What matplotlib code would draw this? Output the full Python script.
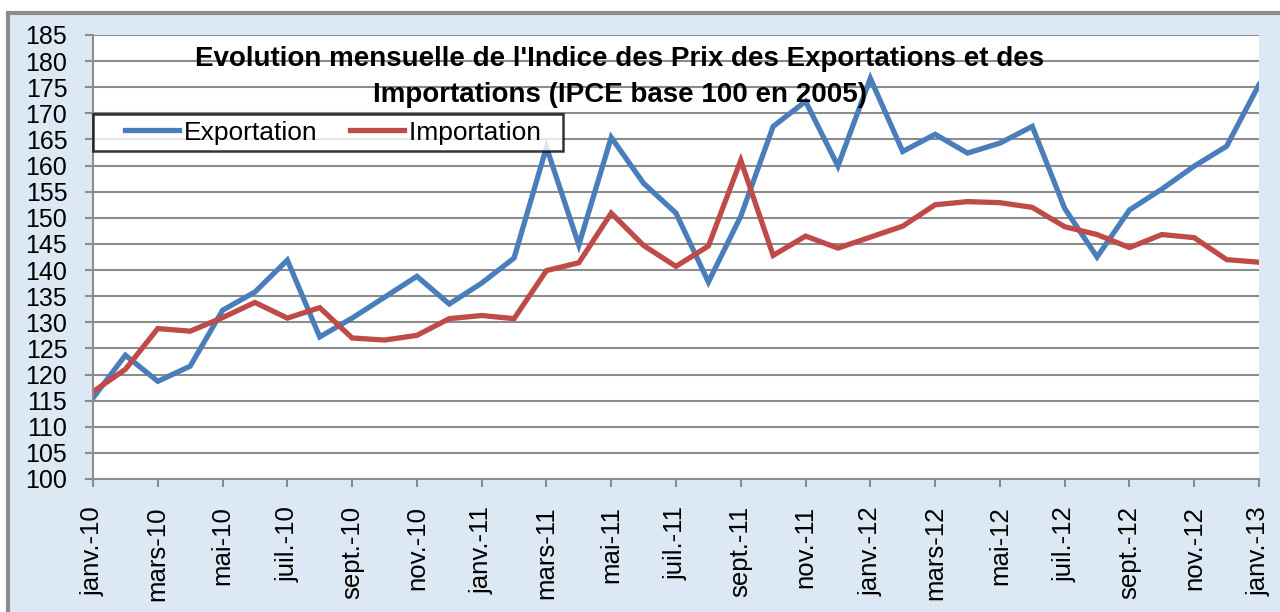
import matplotlib.pyplot as plt
from matplotlib.patches import Rectangle
from matplotlib.legend_handler import HandlerLine2D
import numpy as np

plt.rcParams['font.family'] = ['Liberation Sans', 'DejaVu Sans']

# mois (etiquettes une sur deux)
months = ["janv.-10", "févr.-10", "mars-10", "avr.-10", "mai-10", "juin-10",
          "juil.-10", "août-10", "sept.-10", "oct.-10", "nov.-10", "déc.-10",
          "janv.-11", "févr.-11", "mars-11", "avr.-11", "mai-11", "juin-11",
          "juil.-11", "août-11", "sept.-11", "oct.-11", "nov.-11", "déc.-11",
          "janv.-12", "févr.-12", "mars-12", "avr.-12", "mai-12", "juin-12",
          "juil.-12", "août-12", "sept.-12", "oct.-12", "nov.-12", "déc.-12",
          "janv.-13"]

exportation = [115.5, 123.7, 118.7, 121.6, 132.3, 135.8, 141.9, 127.2, 130.8,
               134.8, 138.8, 133.5, 137.5, 142.3, 163.5, 144.8, 165.4, 156.6,
               150.9, 137.7, 150.3, 167.5, 172.3, 159.9, 176.7, 162.7, 166.0,
               162.4, 164.3, 167.5, 151.8, 142.5, 151.5, 155.5, 159.9, 163.7,
               175.5]

importation = [116.7, 121.0, 128.8, 128.3, 130.9, 133.8, 130.8, 132.8, 127.0,
               126.6, 127.5, 130.7, 131.3, 130.7, 139.9, 141.4, 150.9, 144.7,
               140.7, 144.6, 161.0, 142.8, 146.5, 144.2, 146.3, 148.4, 152.5,
               153.1, 152.9, 152.0, 148.3, 146.8, 144.3, 146.8, 146.2, 142.0,
               141.5]

x = np.arange(len(months))

fig = plt.figure(figsize=(12.8, 6.12), dpi=100)
fig.patch.set_facecolor('white')
# fond bleu clair avec cadre gris
fig.patches.append(Rectangle((8 / 1280, -0.05), 1.1, 1 - 13 / 612 + 0.05,
                             transform=fig.transFigure, facecolor='#dce8f4',
                             edgecolor='#8c8c8c', linewidth=3, zorder=-5))

ax = fig.add_axes([93 / 1280, 1 - 479 / 612, (1259 - 93) / 1280, 444 / 612])
ax.set_zorder(2)
ax.set_facecolor('white')

ax.plot(x, exportation, color='#4a7ebb', lw=3.8, label='Exportation',
        solid_joinstyle='miter')
ax.plot(x, importation, color='#be4b48', lw=3.8, label='Importation\u00a0\u00a0',
        solid_joinstyle='miter')

ax.set_xlim(0, len(months) - 1)
ax.set_ylim(100, 185)
ax.set_yticks(np.arange(100, 186, 5))
ax.set_xticks(x[::2])
ax.set_xticklabels(months[::2], rotation=90)
ax.tick_params(axis='both', labelsize=18.5, color='#8c8c8c', length=5.5,
               width=1.5, direction='out')
ax.tick_params(axis='x', pad=14)
ax.tick_params(axis='y', pad=13, labelsize=18)

ax.grid(axis='y', color='#8c8c8c', lw=1.5)
ax.set_axisbelow(True)
for s in ['top', 'right']:
    ax.spines[s].set_visible(False)
for s in ['left', 'bottom']:
    ax.spines[s].set_color('#8c8c8c')
    ax.spines[s].set_linewidth(1.5)

leg = ax.legend(loc='upper left', bbox_to_anchor=(0, 0.822), ncol=2,
                borderaxespad=0, fontsize=19, frameon=True, fancybox=False,
                handlelength=3.0, handletextpad=0.19, columnspacing=0.29,
                borderpad=0.25,
                handler_map={l: HandlerLine2D(xpad=0.96) for l in ax.lines})
leg.get_frame().set_edgecolor('black')
leg.get_frame().set_linewidth(1.8)

fig.text(620 / 1280, 1 - 77 / 612,
         "Evolution mensuelle de l'Indice des Prix des Exportations et des\n"
         "Importations (IPCE base 100 en 2005)",
         ha='center', va='center', fontsize=20, fontweight='bold',
         linespacing=1.45, zorder=5)

fig.savefig('out.png', dpi=100)
